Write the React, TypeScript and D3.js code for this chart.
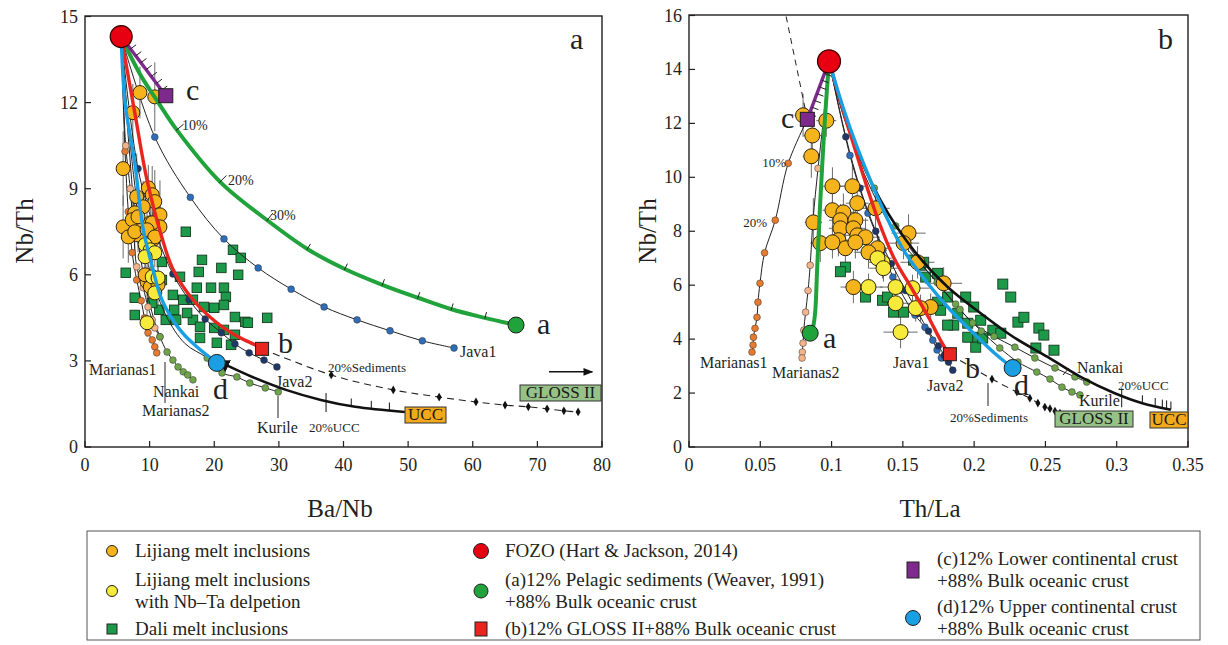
import React from "react";
import * as d3 from "d3";

type P = [number, number];
type E = [number, number, number, number]; // x, y, xErr, yErr
type S = d3.ScaleLinear<number, number>;

const FONT = "'Liberation Serif', 'Times New Roman', serif";

// ---------------- panel a : Ba/Nb vs Nb/Th ----------------
const xTicksA = [0, 10, 20, 30, 40, 50, 60, 70, 80];
const yTicksA = [0, 3, 6, 9, 12, 15];

const fozoA: P = [5.6, 14.3];
const memberAa: P = [66.7, 4.25];
const memberAb: P = [27.4, 3.42];
const memberAc: P = [12.5, 12.24];
const memberAd: P = [20.4, 2.93];

const lijiangA: E[] = [
  [8.5, 12.35, 0.5, 0.9], [10.8, 12.2, 0.6, 1.2], [7.4, 11.65, 0.4, 1.0], [5.9, 9.7, 0.4, 1.3],
  [9.8, 9.03, 0.5, 0.8], [10.4, 8.79, 0.6, 1.0], [8.0, 8.72, 0.4, 1.5], [10.8, 8.55, 0.5, 1.1],
  [9.0, 8.37, 0.4, 0.9], [7.7, 8.16, 0.4, 0.7], [11.6, 8.09, 0.6, 1.2], [5.9, 7.67, 0.3, 1.1],
  [8.5, 7.67, 0.5, 0.8], [10.1, 7.81, 0.5, 0.7], [11.6, 7.67, 0.6, 0.9], [8.2, 7.39, 0.4, 0.6],
  [10.5, 7.22, 0.5, 0.8], [6.7, 7.32, 0.3, 0.9], [7.3, 7.92, 0.4, 0.7], [8.2, 8.02, 0.4, 0.8],
  [10.4, 7.81, 0.5, 0.6], [7.7, 7.5, 0.4, 0.7], [9.6, 7.57, 0.5, 0.9], [10.8, 7.32, 0.5, 0.7],
  [9.6, 5.76, 0.5, 0.6], [10.1, 5.58, 0.5, 0.5], [9.3, 6.0, 0.4, 0.6], [11.3, 5.65, 0.6, 0.7],
];
const depletedA: E[] = [
  [9.3, 7.05, 0.4, 0.6], [10.1, 6.87, 0.5, 0.7], [10.8, 6.77, 0.5, 0.5], [9.3, 6.63, 0.4, 0.6],
  [10.4, 5.93, 0.5, 0.6], [11.3, 5.89, 0.5, 0.5], [10.8, 5.37, 0.5, 0.5], [9.6, 4.33, 0.4, 0.5],
];
const daliA: P[] = [
  [15.6, 7.5], [18.1, 6.52], [21.1, 6.24], [23.7, 6.0], [22.9, 6.87], [24.1, 6.59], [6.3, 6.07],
  [11.9, 6.45], [11.9, 5.82], [14.7, 5.93], [17.6, 6.1], [17.3, 5.55], [19.5, 5.55], [21.5, 5.55],
  [21.8, 5.23], [13.6, 5.3], [15.2, 5.13], [16.7, 5.13], [18.4, 4.88], [20.0, 4.85], [21.5, 4.95],
  [23.2, 4.53], [24.8, 4.36], [25.2, 4.33], [28.2, 4.5], [16.7, 4.43], [17.8, 4.19], [20.0, 4.15],
  [21.5, 4.08], [23.2, 3.91], [20.4, 3.63], [22.6, 3.56], [14.1, 4.43], [12.5, 4.43], [15.8, 4.67],
  [13.8, 4.78], [11.5, 4.78], [7.7, 5.2], [7.7, 4.6], [10.4, 5.02], [17.8, 3.8],
];

const java1A: P[] = [[10.8, 10.8], [16.3, 8.7], [21.5, 7.25], [26.8, 6.24], [31.9, 5.5], [37.0, 4.88], [42.1, 4.43], [47.2, 4.05], [52.2, 3.7], [57.1, 3.45]];
const java2A: P[] = [[8.2, 9.7], [11.0, 7.45], [13.6, 6.03], [16.1, 5.13], [18.6, 4.46], [21.1, 3.98], [23.2, 3.59], [25.4, 3.28], [27.7, 3.03], [29.7, 2.79]];
const marianas1A: P[] = [[6.2, 10.3], [6.7, 8.2], [7.3, 6.77], [8.0, 5.82], [8.7, 5.1], [9.2, 4.5], [9.75, 3.98], [10.4, 3.73], [10.8, 3.49], [11.1, 3.28]];
const marianas2A: P[] = [[6.3, 10.5], [7.0, 9.0], [7.5, 7.6], [8.0, 6.28], [9.0, 5.55], [9.75, 4.88], [10.4, 4.43], [10.8, 4.15], [11.6, 3.84]];
const nankaiPathA: P[] = [[6.8, 10.5], [8.0, 7.5], [9.5, 5.5], [10.8, 4.35]];
const nankaiA: P[] = [[11.6, 3.84], [12.7, 3.31], [13.6, 3.03], [14.4, 2.79], [15.2, 2.62], [15.9, 2.51], [16.7, 2.34]];
const kurilePathA: P[] = [[7.5, 9.5], [9.5, 6.6], [12.5, 4.6], [15.5, 3.6]];
const kurileA: P[] = [[18.9, 3.1], [21.2, 2.58], [23.5, 2.44], [25.5, 2.23], [27.9, 2.06], [29.9, 1.92]];
const sedimentsA: P[] = [[38.1, 2.51], [47.7, 1.99], [54.8, 1.74], [60.5, 1.57], [65.0, 1.46], [68.6, 1.4], [71.5, 1.33], [74.1, 1.26], [76.3, 1.22]];
const uccA: P[] = [[21.8, 2.86], [25.9, 2.44], [31.1, 1.99], [36.5, 1.64], [41.8, 1.4], [49.5, 1.22]];
const uccTicksA: P[] = [[37.3, 1.6], [41.2, 1.41], [44.3, 1.33], [47.1, 1.27]];
const greenA: P[] = [[8.5, 13.0], [11.5, 11.95], [14.2, 11.05], [20.9, 9.24], [28.2, 7.9], [34.4, 6.9], [40.2, 6.2], [46.0, 5.65], [51.5, 5.2], [56.7, 4.8], [61.9, 4.5]];
const greenTicksA: P[] = [[14.2, 11.05], [20.9, 9.24], [28.2, 7.9], [34.4, 6.9], [40.2, 6.2], [46.0, 5.65], [51.5, 5.2], [56.7, 4.8], [61.9, 4.5]];
const redA: P[] = [[7.7, 11.65], [9.6, 9.3], [11.9, 7.3], [13.6, 6.2], [16.7, 5.13], [20.4, 4.33], [23.7, 3.84], [26.3, 3.56]];
const blueA: P[] = [[6.2, 12.0], [7.7, 9.9], [9.0, 7.6], [10.4, 6.3], [11.9, 5.13], [14.7, 4.08], [17.3, 3.49]];
const arrowA: P[] = [[71.8, 2.62], [78.5, 2.62]];

// ---------------- panel b : Th/La vs Nb/Th ----------------
const xTicksB = [0, 0.05, 0.1, 0.15, 0.2, 0.25, 0.3, 0.35];
const yTicksB = [0, 2, 4, 6, 8, 10, 12, 14, 16];

const fozoB: P = [0.0982, 14.3];
const memberBa: P = [0.085, 4.22];
const memberBb: P = [0.183, 3.44];
const memberBc: P = [0.083, 12.15];
const memberBd: P = [0.227, 2.93];

const lijiangB: E[] = [
  [0.08, 12.3, 0.006, 0.8], [0.0963, 12.1, 0.007, 0.6], [0.0865, 11.55, 0.006, 0.9], [0.0858, 10.78, 0.006, 0.8],
  [0.1006, 9.67, 0.008, 0.7], [0.1146, 9.67, 0.009, 0.8], [0.118, 9.04, 0.008, 0.6], [0.1006, 8.78, 0.007, 0.8],
  [0.1083, 8.7, 0.008, 0.7], [0.1062, 8.41, 0.008, 0.6], [0.1167, 8.41, 0.009, 0.7], [0.1308, 8.85, 0.01, 0.8],
  [0.0872, 8.33, 0.006, 0.9], [0.1062, 8.11, 0.008, 0.6], [0.1153, 8.11, 0.009, 0.7], [0.1181, 7.85, 0.009, 0.6],
  [0.1238, 7.78, 0.01, 0.7], [0.1048, 7.67, 0.008, 0.6], [0.1097, 7.37, 0.008, 0.7], [0.1167, 7.59, 0.009, 0.6],
  [0.1322, 7.37, 0.01, 0.7], [0.1259, 7.22, 0.01, 0.6], [0.154, 7.93, 0.012, 0.7], [0.1153, 5.93, 0.009, 0.6],
  [0.1603, 6.85, 0.012, 0.6], [0.1786, 6.07, 0.013, 0.6], [0.1695, 5.19, 0.012, 0.5], [0.0921, 7.56, 0.007, 0.7],
  [0.1006, 7.59, 0.008, 0.6], [0.1624, 5.15, 0.012, 0.5], [0.1505, 7.56, 0.011, 0.6],
];
const depletedB: E[] = [
  [0.1357, 6.85, 0.01, 0.6], [0.1322, 7.0, 0.01, 0.5], [0.1364, 6.63, 0.01, 0.5], [0.1449, 5.93, 0.011, 0.6],
  [0.1259, 5.93, 0.01, 0.5], [0.1568, 5.89, 0.012, 0.5], [0.1449, 5.33, 0.011, 0.5], [0.159, 5.15, 0.012, 0.5],
  [0.1484, 4.26, 0.012, 0.6],
];
const daliB: P[] = [
  [0.1097, 6.67], [0.1062, 6.5], [0.1238, 5.56], [0.1357, 5.44], [0.1392, 5.56], [0.1435, 5.0], [0.1505, 5.0],
  [0.1575, 6.93], [0.1624, 6.74], [0.166, 6.3], [0.1744, 6.44], [0.1786, 6.07], [0.1814, 5.56], [0.1744, 5.37],
  [0.1885, 4.96], [0.1941, 5.56], [0.1997, 5.19], [0.1955, 4.59], [0.2046, 4.7], [0.2201, 6.04], [0.2257, 5.56],
  [0.2025, 4.07], [0.2131, 4.33], [0.2187, 4.22], [0.2307, 4.63], [0.2349, 4.81], [0.2454, 4.41], [0.2489, 4.15],
  [0.2433, 3.67], [0.256, 3.59], [0.1857, 4.52], [0.1955, 4.07], [0.2011, 3.7], [0.206, 4.04], [0.1765, 5.07],
  [0.1646, 6.85], [0.1814, 4.52],
];

const java1B: P[] = [[0.1129, 10.81], [0.1255, 8.67], [0.136, 7.3], [0.143, 6.3], [0.148, 5.81], [0.1585, 4.89], [0.1655, 4.44], [0.171, 3.96], [0.174, 3.6], [0.177, 3.3]];
const java2B: P[] = [[0.11, 11.5], [0.12, 9.6], [0.131, 8.0], [0.142, 6.8], [0.152, 5.8], [0.161, 4.95], [0.168, 4.3], [0.175, 3.75], [0.179, 3.4], [0.182, 3.15], [0.185, 2.85]];
const marianas1B: P[] = [[0.0696, 10.52], [0.0605, 8.41], [0.053, 7.2], [0.0498, 6.07], [0.0484, 5.37], [0.0477, 4.81], [0.0463, 4.4], [0.0452, 4.07], [0.0449, 3.78], [0.0442, 3.52]];
const marianasUpB: P[] = [[0.068, 16]];
const marianas2B: P[] = [[0.094, 12.0], [0.0905, 10.33], [0.087, 8.41], [0.085, 6.74], [0.0835, 5.8], [0.0818, 5.0], [0.0805, 4.33], [0.08, 3.85], [0.0795, 3.52], [0.0793, 3.3]];
const nankaiPathB: P[] = [[0.115, 11.5]];
const nankaiB: P[] = [[0.13, 9.6], [0.145, 8.2], [0.16, 7.0], [0.174, 6.1], [0.187, 5.3], [0.199, 4.6], [0.214, 4.1], [0.2286, 3.7], [0.2426, 3.3], [0.2567, 2.93], [0.2707, 2.6], [0.279, 2.41]];
const kurilePathB: P[] = [[0.12, 10.5], [0.145, 7.9], [0.169, 6.4]];
const kurileB: P[] = [[0.19, 5.1], [0.205, 4.3], [0.218, 3.67], [0.2307, 3.15], [0.244, 2.78], [0.2532, 2.52], [0.2616, 2.22], [0.2686, 2.04], [0.2742, 1.93]];
const sedimentsB: P[] = [[0.2125, 2.52], [0.23, 2.04], [0.2391, 1.81], [0.2447, 1.63], [0.2496, 1.48], [0.2532, 1.42], [0.2567, 1.33], [0.2602, 1.26]];
const uccB: P[] = [[0.112, 11.8], [0.1343, 9.15], [0.1575, 7.3], [0.1814, 5.93], [0.2046, 4.96], [0.2278, 4.07], [0.2518, 3.33], [0.275, 2.59], [0.2982, 2.0], [0.318, 1.62], [0.338, 1.38]];
const uccTicksB: P[] = [[0.3035, 1.88], [0.318, 1.62], [0.327, 1.52], [0.332, 1.46], [0.335, 1.43], [0.338, 1.39]];
const greenB: P[] = [[0.0955, 12.3], [0.0935, 10.5], [0.0915, 8.5], [0.0898, 6.5], [0.0885, 5.0], [0.087, 4.45]];
const redB: P[] = [[0.108, 12.5], [0.1167, 11.0], [0.132, 8.52], [0.1435, 7.04], [0.157, 5.81], [0.168, 4.81], [0.176, 4.0], [0.181, 3.55]];
const blueB: P[] = [[0.108, 12.6], [0.1188, 11.0], [0.1364, 8.78], [0.1505, 7.3], [0.1674, 6.07], [0.1835, 5.07], [0.2025, 4.07], [0.215, 3.45]];

// ---------------- legend ----------------
const legendItems = [
  { key: "lij", lines: ["Lijiang melt inclusions"], col: 0, y: 551 },
  { key: "dep", lines: ["Lijiang melt inclusions", "with Nb\u2013Ta delpetion"], col: 0, y: 591 },
  { key: "dali", lines: ["Dali melt inclusions"], col: 0, y: 629 },
  { key: "fozo", lines: ["FOZO (Hart & Jackson, 2014)"], col: 1, y: 551 },
  { key: "a", lines: ["(a)12% Pelagic sediments (Weaver, 1991)", "+88% Bulk oceanic crust"], col: 1, y: 591 },
  { key: "b", lines: ["(b)12% GLOSS II+88% Bulk oceanic crust"], col: 1, y: 629 },
  { key: "c", lines: ["(c)12% Lower continental crust", "+88% Bulk oceanic crust"], col: 2, y: 570 },
  { key: "d", lines: ["(d)12% Upper continental crust", "+88% Bulk oceanic crust"], col: 2, y: 618 },
];

const C = {
  orange: "#F6B41C",
  yellow: "#F6EA3A",
  dali: "#1C9A4A",
  fozo: "#E60012",
  green: "#21A33B",
  red: "#E8251E",
  purple: "#7D2A8C",
  blue: "#1AA0E2",
  java1: "#2E6DB8",
  java2: "#1E3768",
  mar1: "#E67A2E",
  mar2: "#F2B48A",
  olive: "#6FA54A",
  gloss: "#97C287",
  ucc: "#F2A91B",
};

const mk = (xs: S, ys: S) => (pts: P[]) =>
  d3.line<P>().x((d) => xs(d[0])).y((d) => ys(d[1])).curve(d3.curveCatmullRom.alpha(0.5))(pts) || "";

function hatch(p0: P, p1: P, n: number, len: number) {
  const dx = p1[0] - p0[0], dy = p1[1] - p0[1];
  const L = Math.hypot(dx, dy);
  const nx = dy / L, ny = -dx / L;
  return d3.range(n).map((i) => {
    const t = (i + 0.8) / (n + 0.6);
    const x = p0[0] + dx * t, y = p0[1] + dy * t;
    return [x, y, x + nx * len, y + ny * len];
  });
}

function normalTicks(pts: number[][], lens: number[]) {
  return pts.map((p, i) => {
    const a = pts[Math.max(0, i - 1)], b = pts[Math.min(pts.length - 1, i + 1)];
    const tx = b[0] - a[0], ty = b[1] - a[1];
    const L = Math.hypot(tx, ty);
    const nx = ty / L, ny = -tx / L;
    const len = lens[i] ?? 6;
    return [p[0] - nx, p[1] - ny, p[0] + nx * len, p[1] + ny * len];
  });
}

type Thin = { path: P[]; dots: P[]; color: string; start: P };

type PanelCfg = {
  xs: S; ys: S;
  xTicks: number[]; yTicks: number[]; xFmt: (v: number) => string;
  lijiang: E[]; depleted: E[]; dali: P[]; daliSize: number; circR: number;
  thin: Thin[];
  sedStart: P; sed: P[];
  ucc: P[]; uccStart: P | null; uccTicks: P[]; uccArrow: boolean;
  green: P[]; greenTicks: P[]; greenTickLen: number[];
  red: P[]; blue: P[];
  fozo: P; a: P; b: P; c: P; d: P;
  extraDash: P[];
  fozoR: number;
};

function ErrorBars({ pts, xs, ys }: { pts: E[]; xs: S; ys: S }) {
  return (
    <g stroke="#6b6b6b" strokeWidth={1}>
      {pts.map((p, i) => (
        <g key={i}>
          <line x1={xs(p[0])} x2={xs(p[0])} y1={ys(p[1] - p[3])} y2={ys(p[1] + p[3])} />
          <line x1={xs(p[0] - p[2])} x2={xs(p[0] + p[2])} y1={ys(p[1])} y2={ys(p[1])} />
        </g>
      ))}
    </g>
  );
}

function Panel({ cfg }: { cfg: PanelCfg }) {
  const { xs, ys } = cfg;
  const path = mk(xs, ys);
  const [x0, x1] = xs.range();
  const [y0, y1] = ys.range();
  const top = Math.min(y0, y1) - 0.5;
  const bottom = Math.max(y0, y1);

  const purpleHatch = hatch([xs(cfg.fozo[0]), ys(cfg.fozo[1])], [xs(cfg.c[0]), ys(cfg.c[1])], 8, 7);
  const gt = normalTicks(cfg.greenTicks.map((p) => [xs(p[0]), ys(p[1])]), cfg.greenTickLen);

  return (
    <g>
      {/* frame and ticks */}
      <rect x={x0} y={top} width={x1 - x0} height={bottom - top} fill="none" stroke="#231f20" strokeWidth={1.4} />
      {cfg.xTicks.map((t) => (
        <g key={"x" + t}>
          <line x1={xs(t)} x2={xs(t)} y1={bottom} y2={bottom - 6} stroke="#231f20" strokeWidth={1.2} />
          <text x={xs(t)} y={bottom + 24} textAnchor="middle" fontSize={18} fontFamily={FONT} fill="#231f20">
            {cfg.xFmt(t)}
          </text>
        </g>
      ))}
      {cfg.yTicks.map((t) => (
        <g key={"y" + t}>
          <line x1={x0} x2={x0 + 6} y1={ys(t)} y2={ys(t)} stroke="#231f20" strokeWidth={1.2} />
          <text x={x0 - 7} y={ys(t) + 6} textAnchor="end" fontSize={18} fontFamily={FONT} fill="#231f20">
            {t}
          </text>
        </g>
      ))}

      {/* data */}
      <ErrorBars pts={cfg.lijiang} xs={xs} ys={ys} />
      <ErrorBars pts={cfg.depleted} xs={xs} ys={ys} />
      {cfg.dali.map((p, i) => (
        <rect key={"dl" + i} x={xs(p[0]) - cfg.daliSize / 2} y={ys(p[1]) - cfg.daliSize / 2}
          width={cfg.daliSize} height={cfg.daliSize} fill={C.dali} stroke="#163a20" strokeWidth={0.9} />
      ))}

      {/* thin model curves with dots */}
      {cfg.extraDash.length > 0 && (
        <path d={path(cfg.extraDash)} fill="none" stroke="#222" strokeWidth={1} strokeDasharray="6 5" />
      )}
      {cfg.thin.map((t, i) => (
        <path key={"th" + i} d={path([t.start, ...t.path, ...t.dots])} fill="none" stroke="#222" strokeWidth={1} />
      ))}
      {cfg.thin.map((t, i) => (
        <g key={"td" + i}>
          {t.dots.map((p, j) => (
            <circle key={j} cx={xs(p[0])} cy={ys(p[1])} r={3.4} fill={t.color} stroke="#333" strokeWidth={0.5} />
          ))}
        </g>
      ))}

      {cfg.lijiang.map((p, i) => (
        <circle key={"lj" + i} cx={xs(p[0])} cy={ys(p[1])} r={cfg.circR} fill={C.orange} stroke="#2b2210" strokeWidth={1} />
      ))}
      {cfg.depleted.map((p, i) => (
        <circle key={"dp" + i} cx={xs(p[0])} cy={ys(p[1])} r={cfg.circR} fill={C.yellow} stroke="#2b2210" strokeWidth={1} />
      ))}

      {/* sediments dashed */}
      <path d={path([cfg.sedStart, ...cfg.sed])} fill="none" stroke="#222" strokeWidth={1.1} strokeDasharray="7 5" />
      {cfg.sed.map((p, i) => (
        <path key={"sd" + i} d={d3.symbol(d3.symbolDiamond, 22)() || ""} transform={`translate(${xs(p[0])},${ys(p[1])})`} fill="#111" />
      ))}

      {/* UCC thick curve */}
      <path d={path([...(cfg.uccStart ? [cfg.uccStart] : []), ...cfg.ucc])} fill="none" stroke="#111" strokeWidth={2.6}
        markerStart={cfg.uccArrow ? "url(#arrowStart)" : undefined} />
      {cfg.uccTicks.map((p, i) => (
        <line key={"ut" + i} x1={xs(p[0])} x2={xs(p[0])} y1={ys(p[1]) - 8} y2={ys(p[1]) + (i === 0 ? 11 : 0)} stroke="#111" strokeWidth={1} />
      ))}

      {/* mixing curves */}
      <path d={path([cfg.fozo, ...cfg.green, cfg.a])} fill="none" stroke={C.green} strokeWidth={4} />
      {gt.map((t, i) => (
        <line key={"gt" + i} x1={t[0]} y1={t[1]} x2={t[2]} y2={t[3]} stroke="#222" strokeWidth={1} />
      ))}
      <path d={path([cfg.fozo, ...cfg.red, cfg.b])} fill="none" stroke={C.red} strokeWidth={3.4} />
      <path d={path([cfg.fozo, ...cfg.blue, cfg.d])} fill="none" stroke={C.blue} strokeWidth={3.4} />
      <line x1={xs(cfg.fozo[0])} y1={ys(cfg.fozo[1])} x2={xs(cfg.c[0])} y2={ys(cfg.c[1])} stroke={C.purple} strokeWidth={3.4} />
      {purpleHatch.map((h, i) => (
        <line key={"ph" + i} x1={h[0]} y1={h[1]} x2={h[2]} y2={h[3]} stroke="#222" strokeWidth={1} />
      ))}

      {/* end-members */}
      <circle cx={xs(cfg.a[0])} cy={ys(cfg.a[1])} r={8} fill={C.green} stroke="#1d1d1d" strokeWidth={1} />
      <rect x={xs(cfg.b[0]) - 6.5} y={ys(cfg.b[1]) - 6.5} width={13} height={13} fill={C.red} stroke="#1d1d1d" strokeWidth={1} />
      <rect x={xs(cfg.c[0]) - 7} y={ys(cfg.c[1]) - 7} width={14} height={14} fill={C.purple} stroke="#1d1d1d" strokeWidth={1} />
      <circle cx={xs(cfg.d[0])} cy={ys(cfg.d[1])} r={8.5} fill={C.blue} stroke="#1d1d1d" strokeWidth={1} />
      <circle cx={xs(cfg.fozo[0])} cy={ys(cfg.fozo[1])} r={cfg.fozoR} fill={C.fozo} stroke="#3a0000" strokeWidth={1.2} />
    </g>
  );
}

function Label({ x, y, t, s = 16, anchor = "start" }: { x: number; y: number; t: string; s?: number; anchor?: string }) {
  return (
    <text x={x} y={y} fontSize={s} fontFamily={FONT} fill="#231f20" textAnchor={anchor as any}>
      {t}
    </text>
  );
}

function Box({ x, y, w, h, t, fill }: { x: number; y: number; w: number; h: number; t: string; fill: string }) {
  return (
    <g>
      <rect x={x} y={y} width={w} height={h} fill={fill} stroke="#333" strokeWidth={1} />
      <text x={x + w / 2} y={y + h - 3} textAnchor="middle" fontSize={17} fontFamily={FONT} fill="#1a1a1a">{t}</text>
    </g>
  );
}

export default function App() {
  const xA = d3.scaleLinear().domain([0, 80]).range([85, 602]);
  const yA = d3.scaleLinear().domain([0, 15]).range([447, 16.5]);
  const xB = d3.scaleLinear().domain([0, 0.35]).range([689, 1188]);
  const yB = d3.scaleLinear().domain([0, 16]).range([447, 15.5]);

  const cfgA: PanelCfg = {
    xs: xA, ys: yA, xTicks: xTicksA, yTicks: yTicksA, xFmt: (v) => String(v),
    lijiang: lijiangA, depleted: depletedA, dali: daliA, daliSize: 9.5, circR: 7,
    thin: [
      { start: fozoA, path: [], dots: java1A, color: C.java1 },
      { start: fozoA, path: [], dots: java2A, color: C.java2 },
      { start: fozoA, path: [], dots: marianas1A, color: C.mar1 },
      { start: fozoA, path: [], dots: marianas2A, color: C.mar2 },
      { start: fozoA, path: nankaiPathA, dots: nankaiA, color: C.olive },
      { start: fozoA, path: kurilePathA, dots: kurileA, color: C.olive },
    ],
    sedStart: memberAb, sed: sedimentsA,
    ucc: uccA, uccStart: null, uccTicks: uccTicksA, uccArrow: true,
    green: greenA, greenTicks: greenTicksA, greenTickLen: [9, 9, 9, 6, 6, 6, 6, 6, 6],
    red: redA, blue: blueA,
    fozo: fozoA, a: memberAa, b: memberAb, c: memberAc, d: memberAd,
    extraDash: [], fozoR: 11,
  };

  const cfgB: PanelCfg = {
    xs: xB, ys: yB, xTicks: xTicksB, yTicks: yTicksB, xFmt: (v) => String(v),
    lijiang: lijiangB, depleted: depletedB, dali: daliB, daliSize: 10, circR: 7.5,
    thin: [
      { start: fozoB, path: [], dots: java1B, color: C.java1 },
      { start: fozoB, path: [], dots: java2B, color: C.java2 },
      { start: memberBc, path: [], dots: marianas1B, color: C.mar1 },
      { start: fozoB, path: [], dots: marianas2B, color: C.mar2 },
      { start: fozoB, path: nankaiPathB, dots: nankaiB, color: C.olive },
      { start: fozoB, path: kurilePathB, dots: kurileB, color: C.olive },
    ],
    sedStart: memberBb, sed: sedimentsB,
    ucc: uccB, uccStart: fozoB, uccTicks: uccTicksB, uccArrow: false,
    green: greenB, greenTicks: [], greenTickLen: [],
    red: redB, blue: blueB,
    fozo: fozoB, a: memberBa, b: memberBb, c: memberBc, d: memberBd,
    extraDash: [memberBc, ...marianasUpB], fozoR: 11.5,
  };

  const colX = [112, 481, 913];
  const textX = [135, 505, 937];

  const legendMarker = (key: string, cx: number, cy: number) => {
    switch (key) {
      case "lij": return <circle cx={cx} cy={cy} r={5.5} fill={C.orange} stroke="#222" />;
      case "dep": return <circle cx={cx} cy={cy} r={5.5} fill={C.yellow} stroke="#222" />;
      case "dali": return <rect x={cx - 5} y={cy - 5} width={10} height={10} fill={C.dali} stroke="#222" />;
      case "fozo": return <circle cx={cx} cy={cy} r={7.5} fill={C.fozo} stroke="#222" />;
      case "a": return <circle cx={cx} cy={cy} r={7} fill={C.green} stroke="#222" />;
      case "b": return <rect x={cx - 6} y={cy - 7} width={12} height={14} fill={C.red} stroke="#222" />;
      case "c": return <rect x={cx - 6} y={cy - 8} width={12} height={16} fill={C.purple} stroke="#222" />;
      default: return <circle cx={cx} cy={cy} r={7.5} fill={C.blue} stroke="#222" />;
    }
  };

  return (
    <svg width={1228} height={645} viewBox="0 0 1228 645"
      style={{ position: "absolute", left: 0, top: 0, background: "#fff" }}>
      <defs>
        <marker id="arrowStart" viewBox="0 0 10 10" refX="2" refY="5" markerWidth="5" markerHeight="5" orient="auto-start-reverse">
          <path d="M0,0 L10,5 L0,10 z" fill="#111" />
        </marker>
        <marker id="arrowEnd" viewBox="0 0 10 10" refX="9" refY="5" markerWidth="7" markerHeight="7" orient="auto">
          <path d="M0,1 L10,5 L0,9 z" fill="#111" />
        </marker>
      </defs>

      <Panel cfg={cfgA} />
      <Panel cfg={cfgB} />

      {/* axis titles */}
      <text x={340} y={517} textAnchor="middle" fontSize={25} fontFamily={FONT} fill="#231f20">Ba/Nb</text>
      <text x={930} y={517} textAnchor="middle" fontSize={25} fontFamily={FONT} fill="#231f20">Th/La</text>
      <text transform="translate(33,231) rotate(-90)" textAnchor="middle" fontSize={25} fontFamily={FONT} fill="#231f20">Nb/Th</text>
      <text transform="translate(656,231) rotate(-90)" textAnchor="middle" fontSize={25} fontFamily={FONT} fill="#231f20">Nb/Th</text>
      <Label x={570} y={49} t="a" s={30} />
      <Label x={1158} y={49} t="b" s={30} />

      {/* panel a annotations */}
      <Label x={186} y={100} t="c" s={30} />
      <Label x={182} y={130} t="10%" s={14} />
      <Label x={228} y={185} t="20%" s={14} />
      <Label x={270} y={220} t="30%" s={14} />
      <Label x={537} y={334} t="a" s={30} />
      <Label x={278} y={353} t="b" s={30} />
      <Label x={213} y={399} t="d" s={30} />
      <Label x={460} y={357} t="Java1" s={16} />
      <Label x={276} y={387} t="Java2" s={16} />
      <Label x={328} y={372} t="20%Sediments" s={13} />
      <Label x={257} y={433} t="Kurile" s={16} />
      <Label x={309} y={432} t="20%UCC" s={13} />
      <Label x={89} y={375} t="Marianas1" s={16} />
      <Label x={153} y={397} t="Nankai" s={16} />
      <Label x={142} y={416} t="Marianas2" s={16} />
      <line x1={165} x2={165} y1={362} y2={403} stroke="#222" strokeWidth={1} />
      <line x1={278} x2={278} y1={396} y2={418} stroke="#222" strokeWidth={1} />
      <Box x={405} y={407} w={41} h={16} t="UCC" fill={C.ucc} />
      <Box x={520} y={385} w={81} h={16} t="GLOSS II" fill={C.gloss} />
      <line x1={xA(arrowA[0][0])} y1={yA(arrowA[0][1])} x2={xA(arrowA[1][0])} y2={yA(arrowA[1][1])}
        stroke="#111" strokeWidth={1.4} markerEnd="url(#arrowEnd)" />

      {/* panel b annotations */}
      <Label x={781} y={128} t="c" s={30} />
      <Label x={786} y={167} t="10%" s={13} anchor="end" />
      <Label x={767} y={227} t="20%" s={13} anchor="end" />
      <Label x={823} y={348} t="a" s={30} />
      <Label x={700} y={368} t="Marianas1" s={16} />
      <Label x={772} y={378} t="Marianas2" s={16} />
      <Label x={893} y={368} t="Java1" s={16} />
      <Label x={927} y={391} t="Java2" s={16} />
      <Label x={965} y={378} t="b" s={30} />
      <Label x={1014} y={395} t="d" s={30} />
      <Label x={950} y={422} t="20%Sediments" s={13} />
      <line x1={988} x2={988} y1={383} y2={406} stroke="#222" strokeWidth={1} />
      <Label x={1077} y={373} t="Nankai" s={16} />
      <line x1={1063} y1={375} x2={1069} y2={368} stroke="#222" strokeWidth={1} />
      <Label x={1118} y={390} t="20%UCC" s={13} />
      <Label x={1079} y={406} t="Kurile" s={16} />
      <Box x={1055} y={411} w={78} h={16} t="GLOSS II" fill={C.gloss} />
      <Box x={1150} y={412} w={38} h={16} t="UCC" fill={C.ucc} />

      {/* legend */}
      <rect x={87} y={531} width={1113} height={109} fill="#fff" stroke="#555" strokeWidth={1} />
      {legendItems.map((it) => (
        <g key={it.key}>
          {legendMarker(it.key, colX[it.col], it.y)}
          {it.lines.map((l, i) => (
            <text key={i} x={textX[it.col]} fontSize={19} fontFamily={FONT} fill="#231f20"
              y={it.y + 6 + (i - (it.lines.length - 1) / 2) * 22}>
              {l}
            </text>
          ))}
        </g>
      ))}
    </svg>
  );
}
